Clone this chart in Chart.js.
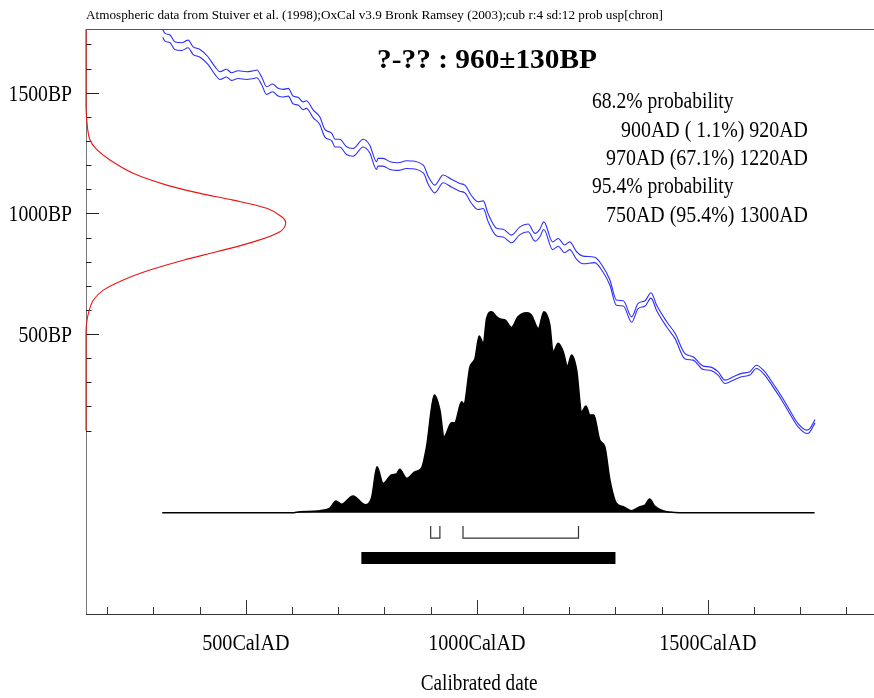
<!DOCTYPE html>
<html>
<head>
<meta charset="utf-8">
<script src="https://cdn.jsdelivr.net/npm/chart.js@4.4.1/dist/chart.umd.min.js"></script>
<style>
  html, body { margin: 0; padding: 0; background: #fff; }
  #wrap { width: 874px; height: 698px; }
</style>
</head>
<body>
<div id="wrap"><canvas id="calChart" width="874" height="698"></canvas></div>
<script>
// calibrated probability (relative, peak = 1) by calendar year AD
const probAD = [319, 600, 617, 656, 660, 682, 695, 707, 732, 758, 772, 784, 797, 815, 826, 833, 848, 866, 880, 891,
    908, 920, 929, 945, 952, 967, 972, 985, 992, 996, 1005, 1014, 1021, 1032, 1043, 1053, 1061, 1075, 1089, 1108,
    1118, 1133, 1145, 1158, 1165, 1176, 1187, 1196, 1205, 1216, 1227, 1236, 1245, 1253, 1266, 1277, 1288, 1302,
    1317, 1335, 1353, 1364, 1374, 1385, 1403, 1418, 1440, 1731];
const prob = [0, 0, 0.005, 0.008, 0.01, 0.023, 0.058, 0.042, 0.083, 0.04, 0.073, 0.229, 0.146, 0.188, 0.193, 0.216, 0.171, 0.204, 0.221, 0.328,
    0.586, 0.511, 0.378, 0.448, 0.448, 0.552, 0.541, 0.726, 0.751, 0.768, 0.879, 0.843, 0.967, 1.0, 0.975, 0.962, 0.959, 0.922, 0.975, 0.995,
    0.984, 0.917, 1.0, 0.934, 0.801, 0.843, 0.801, 0.73, 0.785, 0.71, 0.502, 0.531, 0.486, 0.486, 0.362, 0.328, 0.163, 0.047,
    0.03, 0.01, 0.03, 0.038, 0.068, 0.033, 0.01, 0.003, 0, 0];

// calibration curve (centre, BP) and its 1 sigma band
const calAD = [320, 325, 336, 346, 361, 375, 386, 400, 418, 433, 444, 458, 469, 483, 502, 516, 524, 534, 545, 558,
    570, 581, 592, 602, 613, 624, 631, 646, 660, 671, 686, 693, 703, 718, 732, 754, 768, 783, 786, 797,
    812, 830, 848, 884, 895, 909, 927, 945, 963, 974, 989, 1003, 1014, 1024, 1043, 1057, 1075, 1093, 1111, 1126,
    1136, 1145, 1164, 1176, 1190, 1201, 1216, 1230, 1255, 1273, 1288, 1302, 1317, 1335, 1349, 1364, 1377, 1389, 1411, 1429,
    1450, 1468, 1490, 1504, 1522, 1537, 1555, 1573, 1591, 1605, 1623, 1641, 1660, 1677, 1695, 1714, 1721, 1732];
const calBP = [1746, 1730, 1723, 1695, 1691, 1702, 1674, 1664, 1633, 1592, 1571, 1581, 1567, 1575, 1571, 1575, 1578, 1550, 1509, 1520,
    1502, 1498, 1502, 1470, 1465, 1446, 1451, 1412, 1384, 1332, 1316, 1291, 1291, 1260, 1253, 1291, 1267, 1198, 1212, 1212,
    1198, 1194, 1202, 1184, 1136, 1101, 1143, 1125, 1108, 1101, 1056, 1032, 1036, 984, 922, 918, 894, 928, 940, 901,
    918, 949, 866, 880, 853, 866, 825, 807, 807, 768, 713, 630, 627, 560, 616, 627, 660, 609, 540, 492,
    409, 399, 360, 357, 337, 302, 316, 330, 337, 364, 337, 288, 233, 178, 123, 95, 102, 139];
const errToAD = [1250, 1450, 1740];
const errBP = [16, 11, 7];

// radiocarbon date 960 +- 130 BP, drawn on the BP axis
const gaussBP = [100, 489, 530, 586, 641, 682, 724, 765, 806, 841, 882, 924, 959, 986, 1021, 1055, 1083, 1117, 1166, 1221,
    1265, 1304, 1359, 1442, 1764];
const gaussDensity = [0, 0, 0.001, 0.012, 0.037, 0.087, 0.187, 0.32, 0.487, 0.654, 0.838, 0.971, 1.0, 0.98, 0.905, 0.738,
    0.571, 0.404, 0.236, 0.12, 0.053, 0.02, 0.007, 0, 0];

// ranges
const range68 = [[900, 920], [970, 1220]];
const range95 = [[750, 1300]];

const bpLabels = [500, 1000, 1500];
const adLabels = [500, 1000, 1500];

const title = '?-?? : 960\u00b1130BP';
const header = 'Atmospheric data from Stuiver et al. (1998);OxCal v3.9 Bronk Ramsey (2003);cub r:4 sd:12 prob usp[chron]';
const infoLines = ['68.2% probability', '900AD ( 1.1%) 920AD', '970AD (67.1%) 1220AD', '95.4% probability', '750AD (95.4%) 1300AD'];

function errAt(ad) {
    for (let i = 0; i < errToAD.length; i++) {
        if (ad <= errToAD[i]) return errBP[i];
    }
    return errBP[errBP.length - 1];
}

const BR_TOP = -0.066, BR_BOT = -0.127, BAR_Y = -0.225;

function drawText(c, txt, x, y, font, align, width, sx) {
    c.save();
    c.font = font;
    const w = c.measureText(txt).width;
    const s = width ? width / w : (sx || 1);
    const dw = w * s;
    let x0 = x;
    if (align === 'right') x0 = x - dw;
    if (align === 'center') x0 = x - dw / 2;
    c.translate(x0, y);
    c.scale(s, 1);
    c.textAlign = 'left';
    c.textBaseline = 'alphabetic';
    c.fillStyle = '#000';
    c.fillText(txt, 0, 0);
    c.restore();
}

const framePlugin = {
    id: 'oxcalFrame',
    beforeDatasetsDraw(chart) {
        const c = chart.ctx, a = chart.chartArea;
        const xs = chart.scales.x, ys = chart.scales.y;
        c.save();
        c.lineWidth = 1;
        // top line
        c.strokeStyle = '#555';
        c.beginPath(); c.moveTo(a.left, a.top + 0.5); c.lineTo(a.right, a.top + 0.5); c.stroke();
        // left axis
        c.strokeStyle = '#777';
        c.beginPath(); c.moveTo(a.left + 0.5, a.top); c.lineTo(a.left + 0.5, a.bottom); c.stroke();
        // left ticks
        c.strokeStyle = '#222';
        for (let bp = 100; bp <= 1700; bp += 100) {
            const py = Math.round(ys.getPixelForValue(bp)) + 0.5;
            const len = bp % 500 === 0 ? 13 : 5.5;
            c.beginPath(); c.moveTo(a.left, py); c.lineTo(a.left + len, py); c.stroke();
        }
        // bottom axis
        c.strokeStyle = '#333';
        c.beginPath(); c.moveTo(a.left, a.bottom + 0.5); c.lineTo(a.right, a.bottom + 0.5); c.stroke();
        for (let ad = 200; ad <= 1800; ad += 100) {
            const px = Math.round(xs.getPixelForValue(ad)) + 0.5;
            const len = ad % 500 === 0 ? 14 : 7;
            c.beginPath(); c.moveTo(px, a.bottom); c.lineTo(px, a.bottom - len); c.stroke();
        }
        c.restore();
    },
    afterDraw(chart) {
        const c = chart.ctx, a = chart.chartArea;
        const xs = chart.scales.x, ys = chart.scales.y;
        const f24 = '24px "Liberation Serif", "Times New Roman", serif';
        bpLabels.forEach(function(bp) {
            drawText(c, bp + 'BP', 72, ys.getPixelForValue(bp) + 8, f24, 'right', null, 0.82);
        });
        adLabels.forEach(function(ad) {
            drawText(c, ad + 'CalAD', xs.getPixelForValue(ad), a.bottom + 36, f24, 'center', null, 0.84);
        });
        drawText(c, 'Calibrated date', xs.getPixelForValue(1005), 690, f24, 'center', null, 0.8);
        drawText(c, header, a.left, 19, '12px "Liberation Serif", "Times New Roman", serif', 'left', 577);
        drawText(c, title, 377, 68, 'bold 28px "Liberation Serif", "Times New Roman", serif', 'left', 220);
        const base = [108, 136.5, 165, 193.3, 221.7];
        infoLines.forEach(function(t, i) {
            if (i === 0 || i === 3) drawText(c, t, 592, base[i], f24, 'left', 141.6);
            else drawText(c, t, 808, base[i], f24, 'right', null, 0.83);
        });
    }
};

const bracketSets = range68.map(function(r) {
    return {
        data: [{x: r[0], y: BR_TOP}, {x: r[0], y: BR_BOT}, {x: r[1], y: BR_BOT}, {x: r[1], y: BR_TOP}],
        xAxisID: 'x', yAxisID: 'yp',
        borderColor: '#333', borderWidth: 1.2, fill: false, tension: 0
    };
});
const barSets = range95.map(function(r) {
    return {
        data: [{x: r[0], y: BAR_Y}, {x: r[1], y: BAR_Y}],
        xAxisID: 'x', yAxisID: 'yp',
        borderColor: '#000', borderWidth: 12, borderCapStyle: 'butt', fill: false, tension: 0
    };
});

const ctx = document.getElementById('calChart').getContext('2d');
new Chart(ctx, {
    type: 'line',
    data: {
        datasets: [
            {
                label: 'Calibrated date',
                data: probAD.map(function(a, i) { return {x: a, y: prob[i]}; }),
                xAxisID: 'x', yAxisID: 'yp',
                borderColor: '#000', backgroundColor: '#000', borderWidth: 1.5,
                fill: 'origin', cubicInterpolationMode: 'monotone'
            },
            {
                label: 'cal upper',
                data: calAD.map(function(a, i) { return {x: a, y: calBP[i] + errAt(a)}; }),
                xAxisID: 'x', yAxisID: 'y',
                borderColor: 'rgb(45,45,255)', borderWidth: 1.1, fill: false,
                cubicInterpolationMode: 'monotone'
            },
            {
                label: 'cal lower',
                data: calAD.map(function(a, i) { return {x: a, y: calBP[i] - errAt(a)}; }),
                xAxisID: 'x', yAxisID: 'y',
                borderColor: 'rgb(45,45,255)', borderWidth: 1.1, fill: false,
                cubicInterpolationMode: 'monotone'
            },
            {
                label: 'Radiocarbon determination',
                data: gaussBP.map(function(b, i) { return {x: gaussDensity[i], y: b}; }),
                xAxisID: 'xd', yAxisID: 'y',
                borderColor: 'rgb(235,20,20)', borderWidth: 1.1, fill: false,
                tension: 0.35, clip: 4
            }
        ].concat(bracketSets, barSets)
    },
    options: {
        responsive: false,
        animation: false,
        layout: { padding: { left: 86, top: 29, right: 0, bottom: 84 } },
        plugins: { legend: { display: false }, tooltip: { enabled: false } },
        elements: { point: { radius: 0, hoverRadius: 0 } },
        scales: {
            x: { type: 'linear', axis: 'x', min: 154, max: 1859.6, display: false },
            y: { type: 'linear', axis: 'y', min: -660, max: 1764, display: false },
            xd: { type: 'linear', axis: 'x', min: 0, max: 3.946, display: false },
            yp: { type: 'linear', axis: 'y', min: -0.504, max: 2.4065, display: false }
        }
    },
    plugins: [framePlugin]
});
</script>
</body>
</html>
